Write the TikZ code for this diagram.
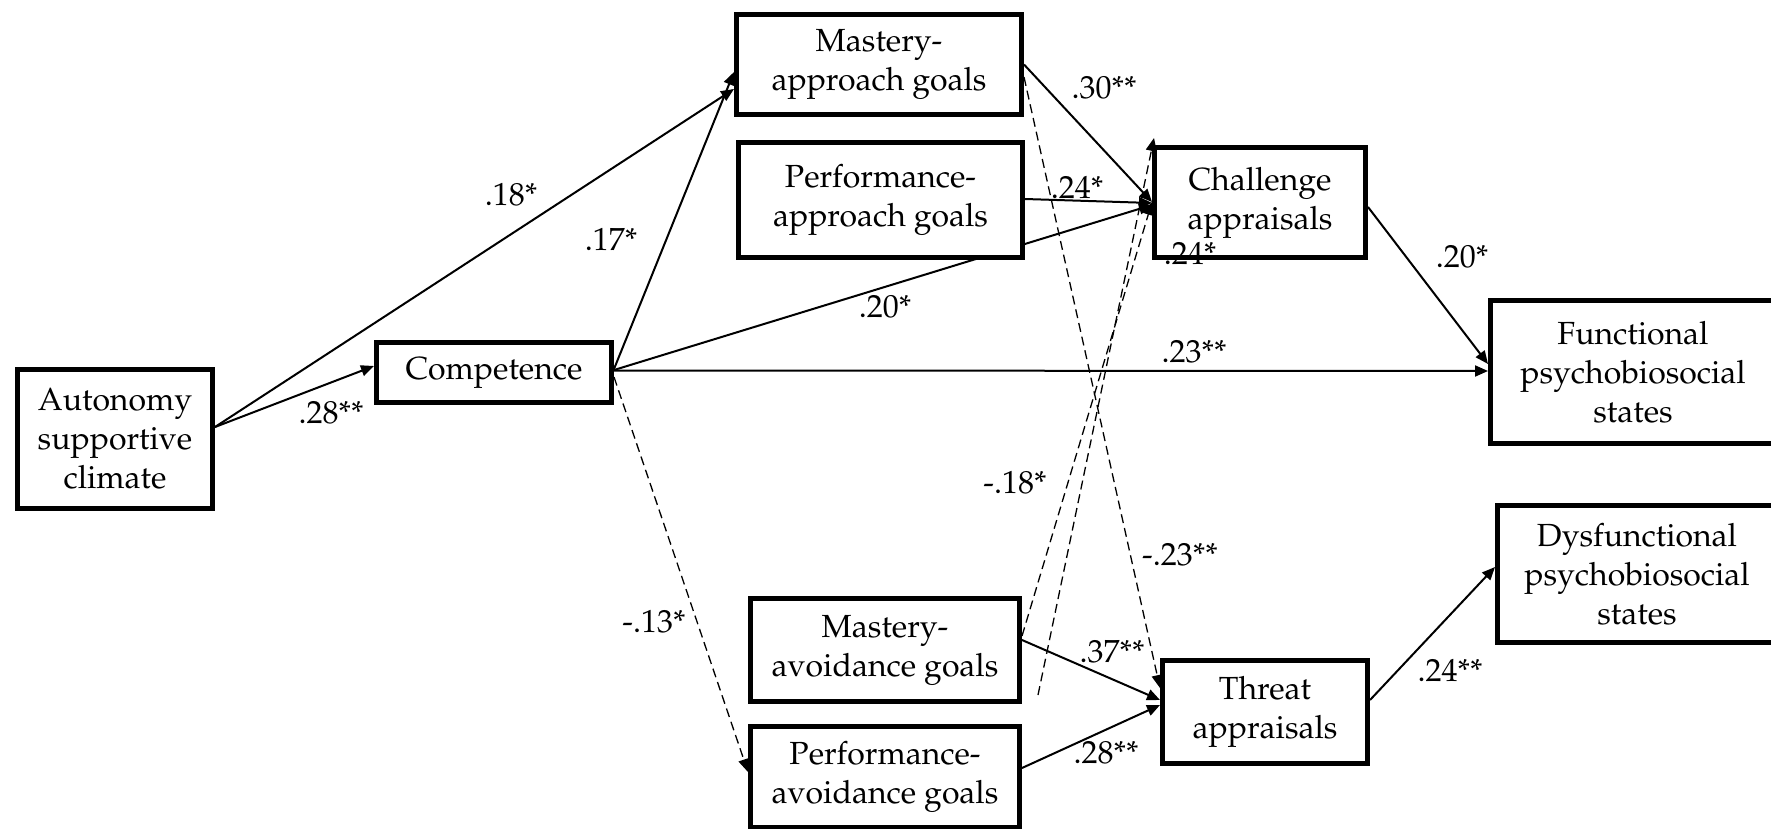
\documentclass[tikz,border=0pt]{standalone}
\usepackage[T1]{fontenc}
\usepackage{mathpazo}
\usetikzlibrary{arrows.meta}
\pgfdeclarelayer{edges}
\pgfsetlayers{edges,main}
\tikzset{
  x=0.5pt, y=-0.5pt,
  txt/.style={font=\fontsize{16}{19.5}\selectfont},
  box/.style={txt, draw, line width=2.5pt, fill=white, align=center, inner sep=0pt},
  conn/.style={line width=1pt, -{Triangle[length=6.5pt,width=5.5pt]}},
  dconn/.style={line width=0.65pt, dash pattern=on 4.5pt off 2.5pt, -{Triangle[length=6.5pt,width=5.5pt]}},
  lab/.style={txt, inner sep=0pt},
}
\begin{document}
\begin{tikzpicture}
\useasboundingbox (0,0) rectangle (1771,829);
\clip (0,0) rectangle (1771,829);

% variables
\node[box, minimum width=97.5pt,  minimum height=69.5pt] (auto) at (115,439)  {Autonomy\\supportive\\climate};
\node[box, minimum width=117.5pt, minimum height=30pt]   (comp) at (494,372.5) {Competence};
\node[box, minimum width=142.5pt, minimum height=50pt]   (map)  at (879,64.5)  {Mastery-\\approach goals};
\node[box, minimum width=142pt,   minimum height=57.5pt] (pap)  at (880.5,200) {Performance-\\approach goals};
\node[box, minimum width=105.5pt, minimum height=55pt]   (chal) at (1260,202.5) {Challenge\\appraisals};
\node[box, minimum width=142.5pt, minimum height=71.5pt] (func) at (1633,372)  {Functional\\psychobiosocial\\states};
\node[box, minimum width=139.5pt, minimum height=68.5pt] (dys)  at (1637,574)  {Dysfunctional\\psychobiosocial\\states};
\node[box, minimum width=134.5pt, minimum height=51.5pt] (mav)  at (885,650)   {Mastery-\\avoidance goals};
\node[box, minimum width=134.5pt, minimum height=50.5pt] (pav)  at (885,777)   {Performance-\\avoidance goals};
\node[box, minimum width=102.5pt, minimum height=51.5pt] (thr)  at (1265,712)  {Threat\\appraisals};
\coordinate (fl) at (1038,695);

% paths, drawn beneath the boxes
\begin{pgfonlayer}{edges}
\draw[conn] ([yshift=6pt]auto.east) -- ([yshift=-12.25pt]map.west);
\draw[conn] ([yshift=1.75pt]comp.east) -- ([yshift=-3.75pt]map.west);
\draw[conn] ([yshift=6pt]auto.east) -- ([yshift=3.25pt]comp.west);
\draw[conn] ([yshift=1.25pt]comp.east) -- ([yshift=-1.25pt]chal.west);
\draw[conn] ([yshift=1pt]comp.east) -- ([yshift=0.5pt]func.west);
\draw[dconn] ([yshift=-2.25pt]comp.east) -- ([yshift=2.5pt]pav.west);
\draw[conn] (map.east) -- ([yshift=0.25pt]chal.west);
\draw[dconn] ([yshift=-6.25pt]map.east) -- ([yshift=12pt]thr.west);
\draw[conn] ([yshift=0.5pt]pap.east) -- ([yshift=-0.25pt]chal.west);
\draw[dconn] ([yshift=7pt]mav.east) -- ([yshift=0.25pt]chal.west);
\draw[dconn] (fl) -- ([xshift=1pt,yshift=3.5pt]chal.north west);
\draw[conn] ([yshift=5pt]mav.east) -- ([yshift=6pt]thr.west);
\draw[conn] ([yshift=4.5pt]pav.east) -- ([yshift=3.5pt]thr.west);
\draw[conn] ([yshift=-2.25pt]chal.east) -- ([yshift=4pt]func.west);
\draw[conn] ([yshift=6pt]thr.east) -- ([yshift=3.5pt]dys.west);
\end{pgfonlayer}

% coefficients
\node[lab] (l1)  at (511,195)  {.18*};
\node[lab] (l2)  at (331,413)  {.28**};
\node[lab] (l3)  at (611,239)  {.17*};
\node[lab] (l4)  at (885,307)  {.20*};
\node[lab] (l5)  at (1194,352) {.23**};
\node[lab] (l6)  at (1104,88)  {.30**};
\node[lab] (l7)  at (1077,187) {.24*};
\node[lab] (l8)  at (1190,253) {.24*};
\node[lab] (l9)  at (1462,257) {.20*};
\node[lab] (l10) at (1015,483) {-.18*};
\node[lab] (l11) at (1180,555) {-.23**};
\node[lab] (l12) at (654,622)  {-.13*};
\node[lab] (l13) at (1112,652) {.37**};
\node[lab] (l14) at (1106,753) {.28**};
\node[lab] (l15) at (1450,670) {.24**};
\end{tikzpicture}
\end{document}
